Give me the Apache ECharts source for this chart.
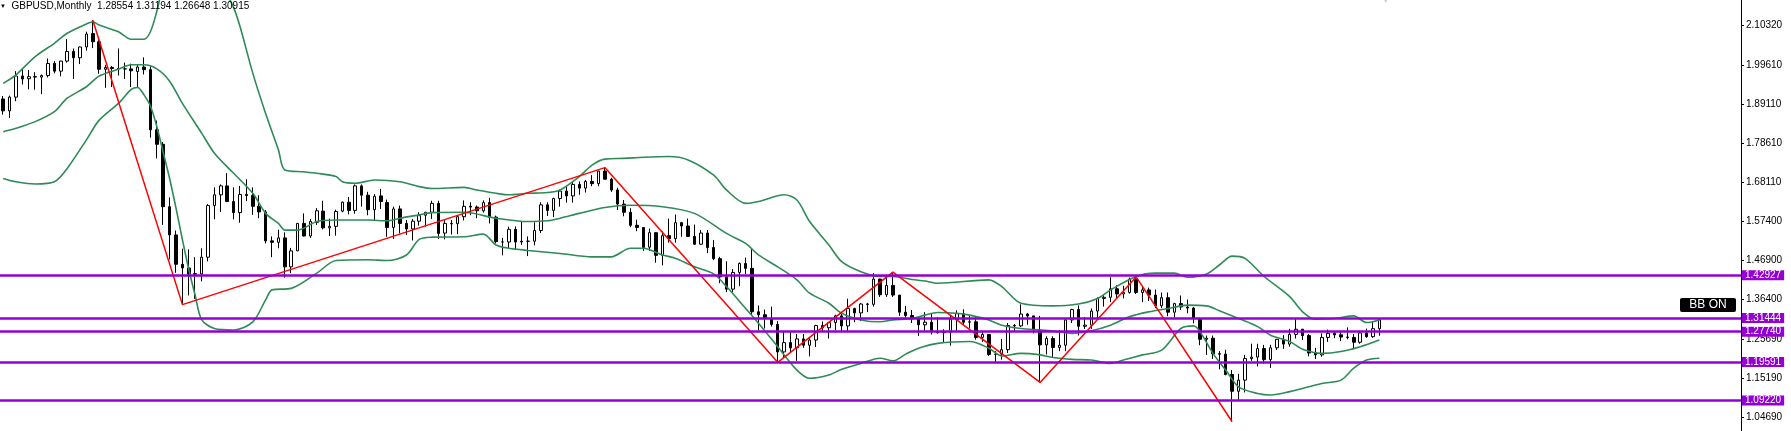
<!DOCTYPE html>
<html>
<head>
<meta charset="utf-8">
<script src="https://cdn.jsdelivr.net/npm/echarts@6/dist/echarts.min.js"></script>
<style>html,body{margin:0;padding:0;background:#fff}#c{width:1791px;height:431px}</style>
</head>
<body>
<div id="c"></div>
<script>
// ---- data (GBPUSD monthly, Sep 2006 .. Aug 2024) ----
const startYear = 2006, startMonth = 9, totalSlots = 272; // category slots incl. right-side chart shift space
const open = [
1.9040,1.8720,1.9090,1.9660,1.9585,1.9640,1.9630,1.9670,2.0000,1.9790,
2.0060,2.0320,2.0150,2.0440,2.0800,2.0580,1.9840,1.9890,1.9860,1.9850,
1.9850,1.9780,1.9900,1.9830,1.8210,1.7820,1.6140,1.5380,1.4590,1.4490,
1.4320,1.4330,1.4780,1.6170,1.6460,1.6700,1.6280,1.5980,1.6470,1.6440,
1.6150,1.6000,1.5220,1.5180,1.5300,1.4520,1.4950,1.5690,1.5350,1.5720,
1.6020,1.5570,1.5610,1.6020,1.6260,1.6040,1.6700,1.6450,1.6060,1.6430,
1.6250,1.5580,1.6080,1.5690,1.5540,1.5750,1.5910,1.5990,1.6230,1.5430,
1.5690,1.5680,1.5870,1.6150,1.6130,1.6030,1.6250,1.5860,1.5190,1.5190,
1.5530,1.5190,1.5210,1.5210,1.5500,1.6190,1.6040,1.6360,1.6560,1.6430,
1.6740,1.6640,1.6820,1.6760,1.7100,1.6880,1.6590,1.6210,1.5990,1.5640,
1.5580,1.5050,1.5440,1.4830,1.5360,1.5280,1.5710,1.5620,1.5340,1.5130,
1.5430,1.5040,1.4740,1.4250,1.3920,1.4370,1.4610,1.4480,1.3310,1.3230,
1.3130,1.2970,1.2230,1.2480,1.2340,1.2580,1.2410,1.2550,1.2940,1.2880,
1.3020,1.3200,1.2930,1.3400,1.3280,1.3520,1.3510,1.4190,1.3770,1.4020,
1.3760,1.3300,1.3210,1.3120,1.2960,1.3030,1.2770,1.2750,1.2760,1.3100,
1.3260,1.3030,1.3040,1.2620,1.2700,1.2160,1.2170,1.2290,1.2940,1.2930,
1.3250,1.3200,1.2820,1.2420,1.2590,1.2350,1.2410,1.3090,1.3370,1.2920,
1.2950,1.3330,1.3670,1.3700,1.3930,1.3790,1.3830,1.4190,1.3830,1.3900,
1.3760,1.3470,1.3690,1.3300,1.3530,1.3440,1.3410,1.3130,1.2570,1.2600,
1.2180,1.2170,1.1620,1.1170,1.1470,1.2050,1.2090,1.2320,1.2020,1.2340,
1.2570,1.2440,1.2700,1.2840,1.2670,1.2200,1.2150,1.2620,1.2730,1.2690,
1.2630,1.2620,1.2490,1.2740,1.2640,1.28554];
const close = [
1.8720,1.9090,1.9660,1.9580,1.9640,1.9630,1.9670,1.9995,1.9790,2.0060,
2.0320,2.0150,2.0440,2.0790,2.0580,1.9840,1.9890,1.9860,1.9850,1.9850,
1.9800,1.9900,1.9830,1.8210,1.7820,1.6140,1.5380,1.4590,1.4490,1.4320,
1.4340,1.4780,1.6170,1.6460,1.6700,1.6280,1.5980,1.6470,1.6440,1.6150,
1.6000,1.5220,1.5180,1.5300,1.4520,1.4950,1.5690,1.5350,1.5740,1.6030,
1.5570,1.5610,1.6010,1.6260,1.6040,1.6700,1.6450,1.6060,1.6420,1.6280,
1.5580,1.6080,1.5690,1.5540,1.5750,1.5900,1.5990,1.6230,1.5420,1.5690,
1.5680,1.5870,1.6150,1.6130,1.6030,1.6250,1.5850,1.5200,1.5190,1.5530,
1.5190,1.5210,1.5210,1.5500,1.6190,1.6040,1.6360,1.6560,1.6430,1.6740,
1.6640,1.6820,1.6760,1.7100,1.6880,1.6590,1.6210,1.5990,1.5640,1.5580,
1.5040,1.5440,1.4830,1.5360,1.5280,1.5710,1.5620,1.5340,1.5130,1.5430,
1.5040,1.4740,1.4250,1.3920,1.4370,1.4610,1.4480,1.3310,1.3230,1.3130,
1.2970,1.2230,1.2480,1.2340,1.2580,1.2410,1.2550,1.2940,1.2880,1.3020,
1.3200,1.2930,1.3400,1.3280,1.3520,1.3510,1.4190,1.3770,1.4020,1.3760,
1.3300,1.3210,1.3120,1.2960,1.3030,1.2770,1.2750,1.2760,1.3100,1.3260,
1.3030,1.3040,1.2620,1.2700,1.2160,1.2170,1.2290,1.2940,1.2930,1.3250,
1.3200,1.2820,1.2420,1.2590,1.2350,1.2410,1.3090,1.3370,1.2920,1.2950,
1.3330,1.3670,1.3700,1.3930,1.3790,1.3830,1.4190,1.3830,1.3900,1.3760,
1.3470,1.3690,1.3300,1.3530,1.3440,1.3410,1.3130,1.2570,1.2600,1.2180,
1.2170,1.1620,1.1170,1.1470,1.2050,1.2090,1.2320,1.2020,1.2340,1.2570,
1.2440,1.2700,1.2840,1.2670,1.2200,1.2150,1.2620,1.2730,1.2690,1.2630,
1.2620,1.2490,1.2740,1.2640,1.2855,1.30915];
const high = [
1.9120,1.9130,1.9790,1.9850,1.9820,1.9760,1.9700,2.0130,2.0060,2.0070,
2.0650,2.0400,2.0450,2.0850,2.1161,2.0700,1.9960,1.9930,2.0400,2.0020,
1.9990,1.9960,2.0160,1.9920,1.8460,1.7880,1.6390,1.5500,1.5010,1.4990,
1.4780,1.5020,1.6210,1.6660,1.6740,1.7043,1.6660,1.6700,1.6880,1.6660,
1.6450,1.6050,1.5340,1.5520,1.5450,1.5030,1.5700,1.5960,1.5810,1.6100,
1.6300,1.5820,1.6060,1.6280,1.6400,1.6740,1.6740,1.6540,1.6480,1.6620,
1.6330,1.6140,1.6170,1.5780,1.5810,1.5990,1.6000,1.6300,1.6300,1.5780,
1.5780,1.5910,1.6310,1.6260,1.6170,1.6310,1.6380,1.5900,1.5300,1.5600,
1.5610,1.5750,1.5340,1.5720,1.6260,1.6260,1.6380,1.6600,1.6670,1.6820,
1.6820,1.6860,1.6990,1.7110,1.7192,1.6920,1.6650,1.6320,1.6100,1.5790,
1.5590,1.5550,1.5450,1.5480,1.5820,1.5930,1.5730,1.5820,1.5660,1.5510,
1.5510,1.5240,1.4790,1.4670,1.4460,1.4640,1.4770,1.5020,1.3480,1.3370,
1.3450,1.3060,1.2770,1.2770,1.2710,1.2710,1.2620,1.2960,1.3050,1.3030,
1.3230,1.3270,1.3660,1.3420,1.3550,1.3550,1.4350,1.4200,1.4240,1.4377,
1.3760,1.3470,1.3360,1.3150,1.3300,1.3260,1.3170,1.2840,1.3210,1.3350,
1.3380,1.3200,1.3180,1.2780,1.2700,1.2250,1.2580,1.3010,1.2980,1.3510,
1.3280,1.3200,1.3200,1.2650,1.2650,1.2810,1.3140,1.3390,1.3480,1.3170,
1.3400,1.3700,1.3760,1.4240,1.4020,1.4010,1.4230,1.4249,1.3990,1.3960,
1.3910,1.3830,1.3830,1.3550,1.3750,1.3640,1.3440,1.3150,1.2670,1.2670,
1.2250,1.2290,1.1740,1.1640,1.2150,1.2450,1.2450,1.2420,1.2420,1.2580,
1.2680,1.2850,1.3142,1.2850,1.2710,1.2340,1.2730,1.2830,1.2790,1.2770,
1.2890,1.2710,1.2800,1.2860,1.3040,1.31194];
const low = [
1.8620,1.8530,1.8980,1.9430,1.9300,1.9290,1.9170,1.9620,1.9730,1.9650,
2.0020,1.9580,1.9980,2.0340,2.0410,1.9720,1.9340,1.9360,1.9670,1.9580,
1.9360,1.9360,1.9700,1.8000,1.7440,1.5650,1.4720,1.4360,1.3503,1.3750,
1.3660,1.4130,1.4670,1.5800,1.6000,1.6260,1.5800,1.5710,1.6290,1.5920,
1.5830,1.5150,1.4780,1.5020,1.4230,1.4350,1.4950,1.5340,1.5300,1.5650,
1.5530,1.5350,1.5360,1.5990,1.5930,1.5950,1.6140,1.5910,1.5780,1.6080,
1.5330,1.5270,1.5420,1.5380,1.5230,1.5630,1.5600,1.5810,1.5270,1.5260,
1.5390,1.5400,1.5770,1.5910,1.5830,1.5980,1.5690,1.5150,1.4830,1.5030,
1.4990,1.5110,1.4810,1.5100,1.5430,1.5890,1.5860,1.6140,1.6250,1.6250,
1.6460,1.6520,1.6690,1.6690,1.6880,1.6540,1.6050,1.5880,1.5590,1.5480,
1.4950,1.4950,1.4630,1.4560,1.5170,1.5170,1.5330,1.5330,1.5110,1.5110,
1.4890,1.4700,1.4080,1.3840,1.3840,1.4000,1.4330,1.3230,1.2800,1.2860,
1.2910,1.1950,1.2090,1.2200,1.1990,1.2340,1.2110,1.2360,1.2770,1.2590,
1.2810,1.2770,1.2770,1.3030,1.3060,1.3300,1.3450,1.3710,1.3710,1.3710,
1.3200,1.3100,1.3010,1.2660,1.2790,1.2700,1.2720,1.2480,1.2400,1.2770,
1.2960,1.2860,1.2560,1.2500,1.2120,1.1960,1.2020,1.2200,1.2770,1.2900,
1.2960,1.2730,1.1409,1.2160,1.2080,1.2250,1.2250,1.3010,1.2670,1.2850,
1.2850,1.3130,1.3450,1.3570,1.3670,1.3670,1.3800,1.3790,1.3570,1.3600,
1.3410,1.3410,1.3190,1.3160,1.3360,1.3270,1.3000,1.2410,1.2150,1.2040,
1.1760,1.1600,1.0350,1.0920,1.1140,1.1990,1.1840,1.1920,1.1800,1.2280,
1.2310,1.2370,1.2590,1.2550,1.2110,1.2040,1.2100,1.2500,1.2600,1.2520,
1.2570,1.2300,1.2450,1.2610,1.2610,1.26648];

// Bollinger bands: [bar index, price]
const bbUpper = [[0,1.946],[2,1.969],[5,2.018],[8,2.054],[10,2.081],[13,2.106],[14,2.112],[15,2.103],[18,2.085],[20,2.065],[22,2.065],[23,2.085],[24,2.140],[25,2.210],[27,2.300],[29,2.340],[32,2.300],[34,2.220],[36,2.150],[37,2.099],[39,1.973],[41,1.865],[43,1.767],[44,1.713],[47,1.708],[49,1.704],[52,1.695],[53,1.681],[55,1.677],[58,1.686],[62,1.681],[65,1.668],[67,1.663],[72,1.666],[74,1.659],[77,1.650],[79,1.646],[82,1.650],[85,1.652],[87,1.659],[90,1.695],[92,1.726],[94,1.742],[97,1.744],[100,1.747],[104,1.749],[107,1.740],[111,1.699],[113,1.659],[116,1.623],[118,1.628],[122,1.646],[124,1.632],[126,1.574],[129,1.511],[131,1.466],[134,1.439],[137,1.426],[139,1.426],[142,1.418],[144,1.414],[146,1.408],[154,1.417],[156,1.399],[159,1.354],[164,1.347],[168,1.352],[171,1.367],[173,1.390],[177,1.426],[180,1.435],[183,1.435],[185,1.424],[188,1.433],[190,1.457],[192,1.481],[194,1.475],[197,1.426],[201,1.372],[203,1.331],[205,1.311],[208,1.313],[211,1.320],[213,1.302],[215,1.309]];
const bbMiddle = [[0,1.816],[2,1.825],[5,1.843],[8,1.870],[10,1.906],[13,1.937],[15,1.966],[18,1.984],[20,1.996],[22,1.996],[24,1.985],[26,1.952],[28,1.892],[31,1.812],[33,1.758],[36,1.704],[39,1.650],[41,1.596],[43,1.569],[44,1.551],[46,1.551],[49,1.574],[52,1.578],[54,1.578],[57,1.578],[60,1.576],[62,1.583],[65,1.592],[67,1.598],[72,1.599],[77,1.583],[82,1.574],[85,1.576],[87,1.583],[90,1.596],[94,1.612],[98,1.618],[103,1.614],[108,1.596],[113,1.542],[116,1.515],[118,1.484],[121,1.452],[124,1.417],[126,1.381],[129,1.354],[131,1.327],[134,1.309],[137,1.304],[139,1.309],[142,1.313],[144,1.322],[146,1.329],[149,1.327],[151,1.322],[154,1.309],[156,1.295],[159,1.286],[162,1.282],[164,1.279],[167,1.273],[170,1.280],[173,1.295],[176,1.318],[179,1.331],[182,1.340],[185,1.349],[188,1.347],[190,1.334],[193,1.313],[196,1.291],[198,1.268],[201,1.251],[203,1.230],[206,1.219],[209,1.224],[212,1.237],[215,1.255]];
const bbLower = [[0,1.690],[2,1.681],[5,1.675],[8,1.681],[10,1.717],[13,1.794],[15,1.847],[18,1.892],[20,1.930],[21,1.935],[22,1.915],[23,1.885],[24,1.830],[25,1.760],[26,1.690],[27,1.610],[28,1.525],[29,1.445],[30,1.375],[31,1.310],[33,1.286],[36,1.282],[39,1.304],[41,1.363],[42,1.390],[45,1.394],[49,1.435],[52,1.469],[57,1.471],[60,1.469],[63,1.484],[65,1.526],[67,1.532],[72,1.533],[75,1.540],[77,1.511],[79,1.502],[82,1.496],[87,1.488],[92,1.479],[95,1.479],[98,1.502],[100,1.502],[103,1.484],[105,1.475],[108,1.452],[111,1.433],[113,1.399],[116,1.340],[118,1.300],[121,1.237],[124,1.174],[126,1.152],[129,1.161],[131,1.176],[134,1.192],[137,1.206],[139,1.199],[141,1.217],[143,1.233],[146,1.246],[151,1.251],[154,1.233],[156,1.212],[159,1.219],[162,1.215],[164,1.208],[167,1.203],[170,1.201],[173,1.192],[175,1.201],[178,1.215],[181,1.228],[184,1.286],[186,1.293],[187,1.277],[189,1.219],[191,1.174],[193,1.129],[196,1.111],[198,1.107],[201,1.116],[206,1.138],[209,1.147],[211,1.179],[213,1.201],[215,1.206]];

// ZigZag pivots: [bar index, price]
const zigzag = [[14,2.1161],[28,1.3503],[94,1.7192],[121,1.1950],[139,1.4377],[162,1.1409],[177,1.4249],[192,1.0350]];
// Horizontal levels
const levels = [1.42927, 1.31444, 1.27740, 1.19591, 1.09220];
// Price scale tick labels
const yTicks = [2.10320, 1.99610, 1.89110, 1.78610, 1.68110, 1.57400, 1.46900, 1.36400, 1.25690, 1.15190, 1.04690];
const yMin = 1.01003, yMax = 2.17051;
const shiftMarker = [216, 2.1732];

// ---- build ----
const months = [];
for (let k = 0; k < totalSlots; k++) {
  const m0 = startMonth - 1 + k;
  const y = startYear + Math.floor(m0 / 12);
  const m = (m0 % 12) + 1;
  months.push(y + '.' + (m < 10 ? '0' + m : m));
}
const candles = open.map((o, i) => [o, close[i], low[i], high[i]]);
const last = open.length - 1;
const FONT = '"Liberation Sans", Arial, sans-serif';
const f5 = v => Number(v).toFixed(5);

const chart = echarts.init(document.getElementById('c'), null, {renderer: 'canvas'});
chart.setOption({
  animation: false,
  backgroundColor: '#ffffff',
  title: {
    text: '{t|▼}  GBPUSD,Monthly  ' + [open[last], high[last], low[last], close[last]].map(f5).join(' '),
    left: 0, top: 1, padding: 0,
    textStyle: {fontSize: 10, fontWeight: 'normal', color: '#000', fontFamily: FONT,
      rich: {t: {fontSize: 6, color: '#000', fontFamily: FONT}}}
  },
  grid: {left: -1.1, right: 50, top: 0, bottom: 0, containLabel: false},
  xAxis: {type: 'category', data: months, boundaryGap: true, show: false},
  yAxis: {
    type: 'value', position: 'right', min: yMin, max: yMax,
    splitLine: {show: false},
    axisLine: {show: true, lineStyle: {color: '#000', width: 1}},
    axisTick: {show: true, inside: false, length: 3, customValues: yTicks, lineStyle: {color: '#000'}},
    axisLabel: {customValues: yTicks, formatter: v => f5(v), color: '#000', fontSize: 10, fontFamily: FONT, margin: 5}
  },
  graphic: [{
    type: 'group', left: 1680, top: 298, z: 100,
    children: [
      {type: 'rect', shape: {x: 0, y: 0, width: 56, height: 14, r: 2}, style: {fill: '#000'}},
      {type: 'text', x: 28, y: 7, style: {text: 'BB ON', fill: '#fff', font: '12px ' + FONT,
        align: 'center', verticalAlign: 'middle', textAlign: 'center', textVerticalAlign: 'middle'}}
    ]
  }],
  series: [
    {
      type: 'scatter', data: [shiftMarker], symbol: 'triangle', symbolRotate: 180, symbolSize: [9, 8],
      itemStyle: {color: '#c4c4c4'}, clip: false, silent: true, z: 1
    },
    {
      type: 'candlestick', data: candles, barWidth: 3, z: 2,
      itemStyle: {color: '#ffffff', color0: '#000000', borderColor: '#000000', borderColor0: '#000000', borderWidth: 1}
    },
    {type: 'line', data: bbUpper, symbol: 'none', smooth: 0.3, z: 3, lineStyle: {color: '#2e8b57', width: 1.6}},
    {type: 'line', data: bbMiddle, symbol: 'none', smooth: 0.3, z: 3, lineStyle: {color: '#2e8b57', width: 1.6}},
    {type: 'line', data: bbLower, symbol: 'none', smooth: 0.3, z: 3, lineStyle: {color: '#2e8b57', width: 1.6}},
    {type: 'line', data: zigzag, symbol: 'none', z: 4, lineStyle: {color: '#ff0000', width: 1.5}},
    {
      type: 'line', data: [], z: 5,
      markLine: {
        symbol: ['none', 'none'], silent: true, animation: false, precision: 5,
        lineStyle: {color: '#000', width: 0, opacity: 0},
        label: {position: 'end', distance: 1, formatter: p => p.name, backgroundColor: '#000', color: '#fff',
          padding: [1, 3, 0, 3], lineHeight: 9, fontSize: 10, fontFamily: FONT},
        data: [{yAxis: close[last], name: f5(close[last])}]
      }
    },
    {
      type: 'line', data: [], z: 6,
      markLine: {
        symbol: ['none', 'none'], silent: true, animation: false, precision: 5,
        lineStyle: {color: '#9400d3', width: 2.5, type: 'solid'},
        label: {position: 'end', distance: 1, formatter: p => p.name, backgroundColor: '#9400d3', color: '#fff',
          padding: [1, 3, 0, 3], lineHeight: 9, fontSize: 10, fontFamily: FONT},
        data: levels.map(v => ({yAxis: v, name: f5(v)}))
      }
    }
  ]
});
</script>
</body>
</html>
